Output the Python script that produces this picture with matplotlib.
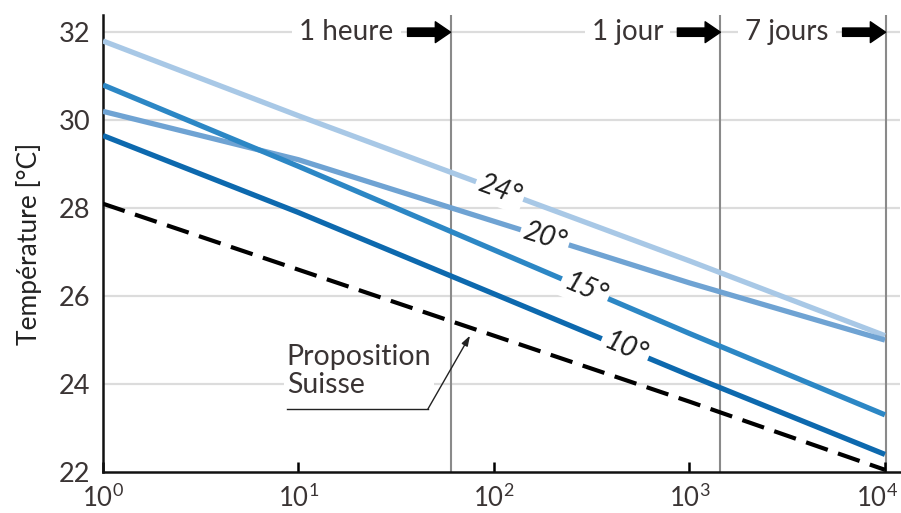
import numpy as np
import matplotlib
matplotlib.use('Agg')
import matplotlib.pyplot as plt
import matplotlib.transforms as mtransforms

plt.rcParams['font.family'] = ['Lato', 'DejaVu Sans']
plt.rcParams['mathtext.fontset'] = 'custom'
plt.rcParams['mathtext.rm'] = 'Lato'
plt.rcParams['mathtext.it'] = 'Lato:italic'

# Données (durée en minutes, température en °C)
durees = [1, 10, 100, 1000, 10000]
t24 = [31.8, 30.1, 28.45, 26.8, 25.1]
t20 = [30.2, 29.1, 27.7, 26.3, 25.0]
t15 = [30.8, 28.95, 27.05, 25.15, 23.3]
t10 = [29.65, 27.9, 26.05, 24.2, 22.4]
suisse = [28.1, 26.6, 25.1, 23.6, 22.05]

courbes = [t24, t20, t15, t10]
noms = ['24°', '20°', '15°', '10°']
couleurs = ['#a8c8e6', '#6fa3d3', '#2c87c5', '#0d69ae']
pos_labels = [107, 182, 292, 468]

limites = [60, 1440, 10080]
noms_limites = ['1 heure', '1 jour', '7 jours']

texte_gris = '#3a3434'

fig = plt.figure(figsize=(9.01, 5.13), dpi=100)
ax = fig.add_axes([0.1143, 0.0799, 0.8846, 0.8908])
ax.set_xscale('log')
ax.set_xlim(1, 10 ** 4.077)
ax.set_ylim(22, 32.39)

# grille horizontale
for y in [24, 26, 28, 30, 32]:
    ax.axhline(y, color='#dcdcdc', lw=1.6, zorder=0)

# limites verticales
for xv in limites:
    ax.axvline(xv, color='#8a8a8a', lw=1.5, zorder=1)

# courbes
for t, c in zip(courbes, couleurs):
    ax.plot(durees, t, color=c, lw=3.8, solid_capstyle='butt', zorder=3)
ax.plot(durees, suisse, color='k', lw=3, dashes=(5.5, 2.6), zorder=3)

# étiquettes sur les courbes
lx = np.log10(durees)
for t, nom, xp in zip(courbes, noms, pos_labels):
    yp = np.interp(np.log10(xp), lx, t)
    p1 = ax.transData.transform((xp / 1.2, np.interp(np.log10(xp / 1.2), lx, t)))
    p2 = ax.transData.transform((xp * 1.2, np.interp(np.log10(xp * 1.2), lx, t)))
    ang = np.degrees(np.arctan2(p2[1] - p1[1], p2[0] - p1[0]))
    ax.text(xp, yp, nom, fontsize=20, style='italic', color='#1e1e1e',
            rotation=ang, rotation_mode='anchor', ha='center', va='center',
            bbox=dict(facecolor='white', edgecolor='none', pad=2.5), zorder=4)

# textes du haut avec flèches
for xv, nom in zip(limites, noms_limites):
    ax.annotate(nom, xy=(xv, 32), xytext=(-41, 0), textcoords='offset points',
                ha='right', va='center', fontsize=20, color=texte_gris,
                bbox=dict(facecolor='white', edgecolor='none', pad=5), zorder=5)
    ax.annotate('', xy=(xv, 32), xytext=(-31, 0), textcoords='offset points',
                arrowprops=dict(arrowstyle='simple,head_length=0.55,head_width=0.75,tail_width=0.3',
                                color='k', shrinkA=0, shrinkB=0, mutation_scale=20), zorder=6)

# Proposition Suisse
ax.text(8.7, 24.3, 'Proposition\nSuisse', fontsize=20.5, color=texte_gris, ha='left', va='center',
        linespacing=1.1, bbox=dict(facecolor='white', edgecolor='none', pad=2), zorder=5)
ax.plot([8.7, 45.9], [23.43, 23.43], color='#222222', lw=1, zorder=5)
ax.annotate('', xy=(75.4, 25.1), xytext=(45.9, 23.43),
            arrowprops=dict(arrowstyle='-|>,head_length=0.6,head_width=0.2', color='#222222',
                            lw=1, shrinkA=0, shrinkB=0), zorder=5)

# axes
for s in ['top', 'right']:
    ax.spines[s].set_visible(False)
for s in ['left', 'bottom']:
    ax.spines[s].set_linewidth(1.8)
    ax.spines[s].set_color('#111111')

ax.set_yticks([22, 24, 26, 28, 30, 32])
ax.set_xticks([1, 10, 100, 1000, 10000])
ax.minorticks_off()
ax.tick_params(axis='y', length=0, pad=9, labelsize=19.5, labelcolor=texte_gris)
ax.tick_params(axis='x', direction='in', length=7, width=1.8, pad=9, labelsize=18.5,
               labelcolor=texte_gris)
ax.set_ylabel('Température [°C]', fontsize=19, color='#222222', labelpad=12)

# le dernier label ne doit pas sortir à droite
dernier = ax.get_xticklabels()[-1]
dernier.set_transform(dernier.get_transform() + mtransforms.ScaledTranslation(-6 / 72, 0, fig.dpi_scale_trans))

fig.savefig('out.png', dpi=100)
